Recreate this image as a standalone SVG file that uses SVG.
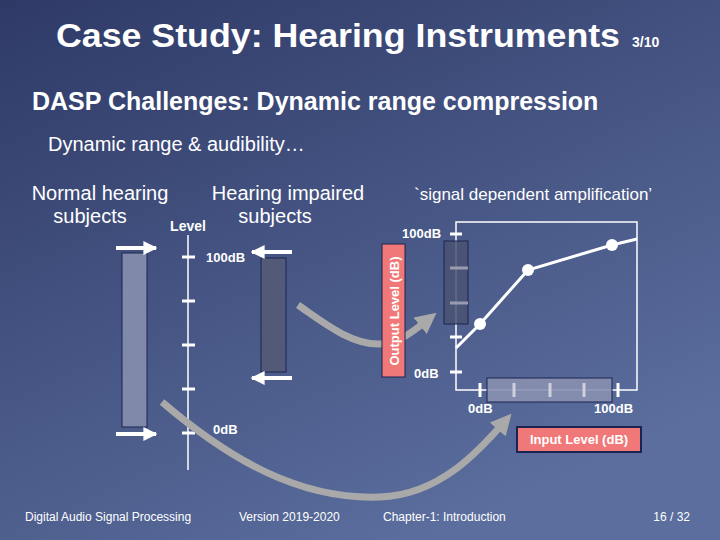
<svg xmlns="http://www.w3.org/2000/svg" width="720" height="540" viewBox="0 0 720 540">
<defs>
<linearGradient id="bg" x1="0" y1="0" x2="0.6" y2="1"><stop offset="0" stop-color="#2e3966"/><stop offset="1" stop-color="#5b6e9e"/></linearGradient>
<marker id="wa" viewBox="0 0 10 10" refX="9" refY="5" markerWidth="3.5" markerHeight="3.5" orient="auto"><path d="M0,0L10,5L0,10z" fill="#fff"/></marker>
<marker id="ga" viewBox="0 0 10 10" refX="6" refY="5" markerWidth="3" markerHeight="3" orient="auto"><path d="M0,0L10,5L0,10z" fill="#a9a9a9"/></marker>
<style>
text{font-family:"Liberation Sans",Arial,sans-serif;fill:#fff}
.b{font-weight:bold}
.tk{stroke:#fff;stroke-width:3}
.wl{stroke:#fff;stroke-width:4}
.gc{fill:none;stroke:#a9a9a9;stroke-width:7}
</style>
</defs>
<rect width="720" height="540" fill="url(#bg)"/>
<text x="56" y="47" font-size="33" class="b" textLength="564" lengthAdjust="spacingAndGlyphs">Case Study: Hearing Instruments</text>
<text x="632" y="47" font-size="14" class="b">3/10</text>
<text x="32" y="110" font-size="25" class="b">DASP Challenges: Dynamic range compression</text>
<text x="48" y="151" font-size="20">Dynamic range &amp; audibility…</text>
<text x="100" y="200" font-size="20" text-anchor="middle">Normal hearing</text>
<text x="90" y="223" font-size="20" text-anchor="middle">subjects</text>
<text x="288" y="200" font-size="20" text-anchor="middle">Hearing impaired</text>
<text x="275" y="223" font-size="20" text-anchor="middle">subjects</text>
<text x="188" y="231" font-size="14" text-anchor="middle" class="b">Level</text>
<text x="414" y="200" font-size="17">`signal dependent amplification’</text>
<g id="left-scale">
<rect x="122" y="253" width="25" height="174" fill="#8189ab" stroke="#1a2450"/>
<line x1="116" y1="248" x2="156" y2="248" class="wl" marker-end="url(#wa)"/>
<line x1="116" y1="434" x2="156" y2="434" class="wl" marker-end="url(#wa)"/>
<line x1="188" y1="235" x2="188" y2="470" stroke="#fff" stroke-width="1.5"/>
<path d="M182,257h13M182,301h13M182,345h13M182,389h13M182,433h13" class="tk"/>
<text x="206" y="262" font-size="13" class="b">100dB</text>
<text x="213" y="434" font-size="13" class="b">0dB</text>
</g>
<g id="right-scale">
<rect x="261" y="258" width="25" height="114" fill="#525a78" stroke="#1a2450"/>
<line x1="292" y1="252" x2="252" y2="252" class="wl" marker-end="url(#wa)"/>
<line x1="292" y1="378" x2="252" y2="378" class="wl" marker-end="url(#wa)"/>
</g>
<g id="connectors">
<path d="M162,402 C230,460 300,500 380,497 C440,495 480,450 506,420" class="gc" marker-end="url(#ga)"/>
<path d="M298,305 C320,320 350,345 380,344 C400,343 415,330 430,318" class="gc" marker-end="url(#ga)"/>
</g>
<g id="chart">
<rect x="456" y="222" width="181" height="168" fill="none" stroke="#fff" stroke-width="1.5"/>
<rect x="444" y="241" width="24" height="83" fill="#4a5272" fill-opacity="0.85" stroke="#1a2450"/>
<path d="M450,234h12M450,337h12M450,372h12" class="tk"/>
<path d="M450,268h18M450,303h18" stroke="#9a9ab0" stroke-width="3"/>
<rect x="487" y="378" width="125" height="24" fill="#8a90b0" fill-opacity="0.9" stroke="#1a2450"/>
<path d="M480,383v14M618,383v14" class="tk"/>
<path d="M514,383v14M550,383v14M584,383v14" stroke="#d0d0dc" stroke-width="3"/>
<polyline points="456,348 480,324 528,270 612,245 637,239" fill="none" stroke="#fff" stroke-width="3"/>
<circle cx="480" cy="324" r="6" fill="#fff"/>
<circle cx="528" cy="270" r="6" fill="#fff"/>
<circle cx="612" cy="245" r="6" fill="#fff"/>
<text x="402" y="238" font-size="13" class="b">100dB</text>
<text x="414" y="378" font-size="13" class="b">0dB</text>
<text x="468" y="413" font-size="13" class="b">0dB</text>
<text x="594" y="413" font-size="13" class="b">100dB</text>
<rect x="382" y="244" width="23" height="133" fill="#f07878" stroke="#1a2450"/>
<text transform="translate(399,311) rotate(-90)" font-size="13" text-anchor="middle" class="b">Output Level (dB)</text>
<rect x="517" y="427" width="124" height="25" fill="#f07878" stroke="#1a2450" stroke-width="2"/>
<text x="579" y="444" font-size="13" text-anchor="middle" class="b">Input Level (dB)</text>
</g>
<text x="25" y="521" font-size="12">Digital Audio Signal Processing</text>
<text x="239" y="521" font-size="12">Version 2019-2020</text>
<text x="383" y="521" font-size="12">Chapter-1: Introduction</text>
<text x="690" y="521" font-size="12" text-anchor="end">16 / 32</text>
</svg>
